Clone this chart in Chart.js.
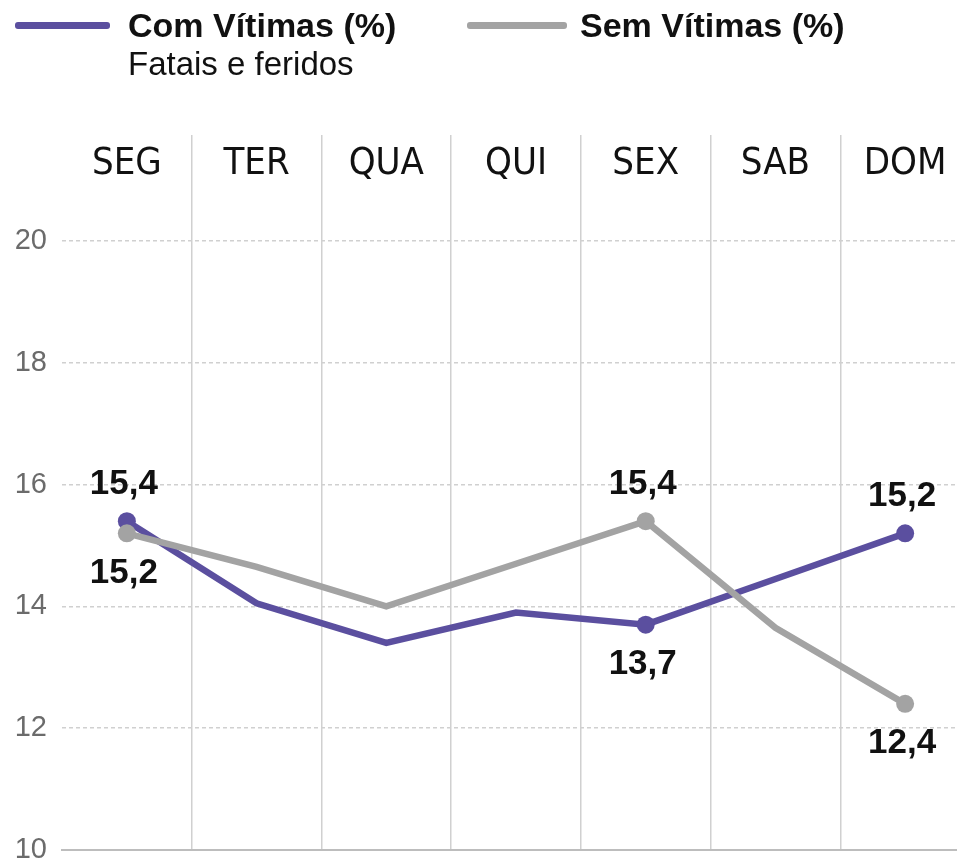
<!DOCTYPE html>
<html lang="pt">
<head>
<meta charset="utf-8">
<title>Acidentes por dia da semana</title>
<script src="https://cdn.jsdelivr.net/npm/chart.js@4"></script>
<style>
  html, body { margin: 0; padding: 0; background: #fff; overflow: hidden; }
  #wrap { position: relative; width: 957px; height: 859px; overflow: hidden; }
  #grafico { position: absolute; left: 0; top: 0; }
  .leg { position: absolute; font-family: "Liberation Sans", Arial, sans-serif; color: #111; white-space: nowrap; line-height: 34px; }
  .traco { position: absolute; height: 7px; border-radius: 3px; }
</style>
</head>
<body>
<div id="wrap">
  <canvas id="grafico" width="980" height="859"></canvas>
  <div class="traco" style="left:15px; top:22px; width:95px; background:#5b4f9f;"></div>
  <div class="leg" style="left:128px; top:8px; font-size:34px; font-weight:bold;">Com Vítimas (%)</div>
  <div class="leg" style="left:128px; top:47px; font-size:33px;">Fatais e feridos</div>
  <div class="traco" style="left:467px; top:22px; width:100px; background:#a3a3a3;"></div>
  <div class="leg" style="left:580px; top:8px; font-size:34px; font-weight:bold;">Sem Vítimas (%)</div>
</div>
<script>
const dias = ['SEG', 'TER', 'QUA', 'QUI', 'SEX', 'SAB', 'DOM'];
const comVitimas = [15.4, 14.05, 13.4, 13.9, 13.7, 14.45, 15.2];
const semVitimas = [15.2, 14.65, 14.0, 14.7, 15.4, 13.65, 12.4];
const yTicks = [10, 12, 14, 16, 18, 20];

// pontos destacados (marcador + rótulo) e de que lado fica o rótulo
const destaques = [0, 4, 6];
const ladoCom = ['acima', 'abaixo', 'acima'];
const ladoSem = ['abaixo', 'acima', 'abaixo'];

const roxo = '#5b4f9f';
const cinza = '#a3a3a3';
const linhaGrade = '#d0d0d0';
const fonteNum = '"Liberation Sans", Arial, sans-serif';
const fonteDias = '"Liberation Sans Narrow", "Arial Narrow", "DejaVu Sans Condensed", sans-serif';

function fmt(v) {
    return v.toFixed(1).replace('.', ',');
}

function raioPonto(ctx) {
    return destaques.includes(ctx.dataIndex) ? 9 : 0;
}

const rotulos = {
    id: 'rotulos',
    afterDatasetsDraw(chart) {
        const ctx = chart.ctx;
        ctx.save();
        ctx.font = 'bold 35px ' + fonteNum;
        ctx.fillStyle = '#111';
        ctx.textAlign = 'center';
        ctx.textBaseline = 'middle';
        chart.data.datasets.forEach((ds, di) => {
            const meta = chart.getDatasetMeta(di);
            const lados = di === 0 ? ladoCom : ladoSem;
            destaques.forEach((idx, k) => {
                const pt = meta.data[idx];
                const dy = lados[k] === 'acima' ? -37 : 40;
                ctx.fillText(fmt(ds.data[idx]), pt.x - 3, pt.y + dy);
            });
        });
        ctx.restore();
    }
};

new Chart(document.getElementById('grafico'), {
    type: 'line',
    data: {
        labels: dias,
        datasets: [
            {
                label: 'Com Vítimas (%)', data: comVitimas, order: 2,
                borderColor: roxo, backgroundColor: roxo, borderWidth: 6.5,
                pointRadius: raioPonto, pointBorderWidth: 0, tension: 0
            },
            {
                label: 'Sem Vítimas (%)', data: semVitimas, order: 1,
                borderColor: cinza, backgroundColor: cinza, borderWidth: 6.5,
                pointRadius: raioPonto, pointBorderWidth: 0, tension: 0
            }
        ]
    },
    options: {
        responsive: false,
        animation: false,
        layout: { padding: { left: 12, right: 10, top: 0, bottom: 0 } },
        plugins: { legend: { display: false }, tooltip: { enabled: false } },
        scales: {
            x: {
                type: 'category',
                position: 'top',
                offset: true,
                grid: {
                    offset: true,
                    color: c => (c.index === 0 || c.index === dias.length) ? 'rgba(0,0,0,0)' : linhaGrade,
                    lineWidth: 1.5,
                    tickLength: 106
                },
                border: { display: false },
                ticks: {
                    color: '#111',
                    font: { family: fonteDias, size: 38 },
                    padding: -52,
                    maxRotation: 0,
                    autoSkip: false
                },
                afterFit: s => { s.height = 241; }
            },
            base: {
                type: 'category',
                position: 'bottom',
                offset: true,
                grid: { display: false },
                ticks: { display: false },
                border: { display: true, color: '#bdbdbd', width: 2 },
                afterFit: s => { s.height = 7; }
            },
            y: {
                min: 10,
                max: 20,
                afterBuildTicks: s => { s.ticks = yTicks.map(v => ({ value: v })); },
                ticks: { color: '#6b6b6b', font: { family: fonteNum, size: 29 }, padding: 15 },
                grid: {
                    color: c => (c.tick && c.tick.value === 10) ? 'rgba(0,0,0,0)' : linhaGrade,
                    lineWidth: 1.5,
                    drawTicks: false
                },
                border: { display: false, dash: [4, 3] },
                afterFit: s => { s.width = 50; s.paddingTop = 0; s.paddingBottom = 0; }
            }
        }
    },
    plugins: [rotulos]
});
</script>
</body>
</html>
